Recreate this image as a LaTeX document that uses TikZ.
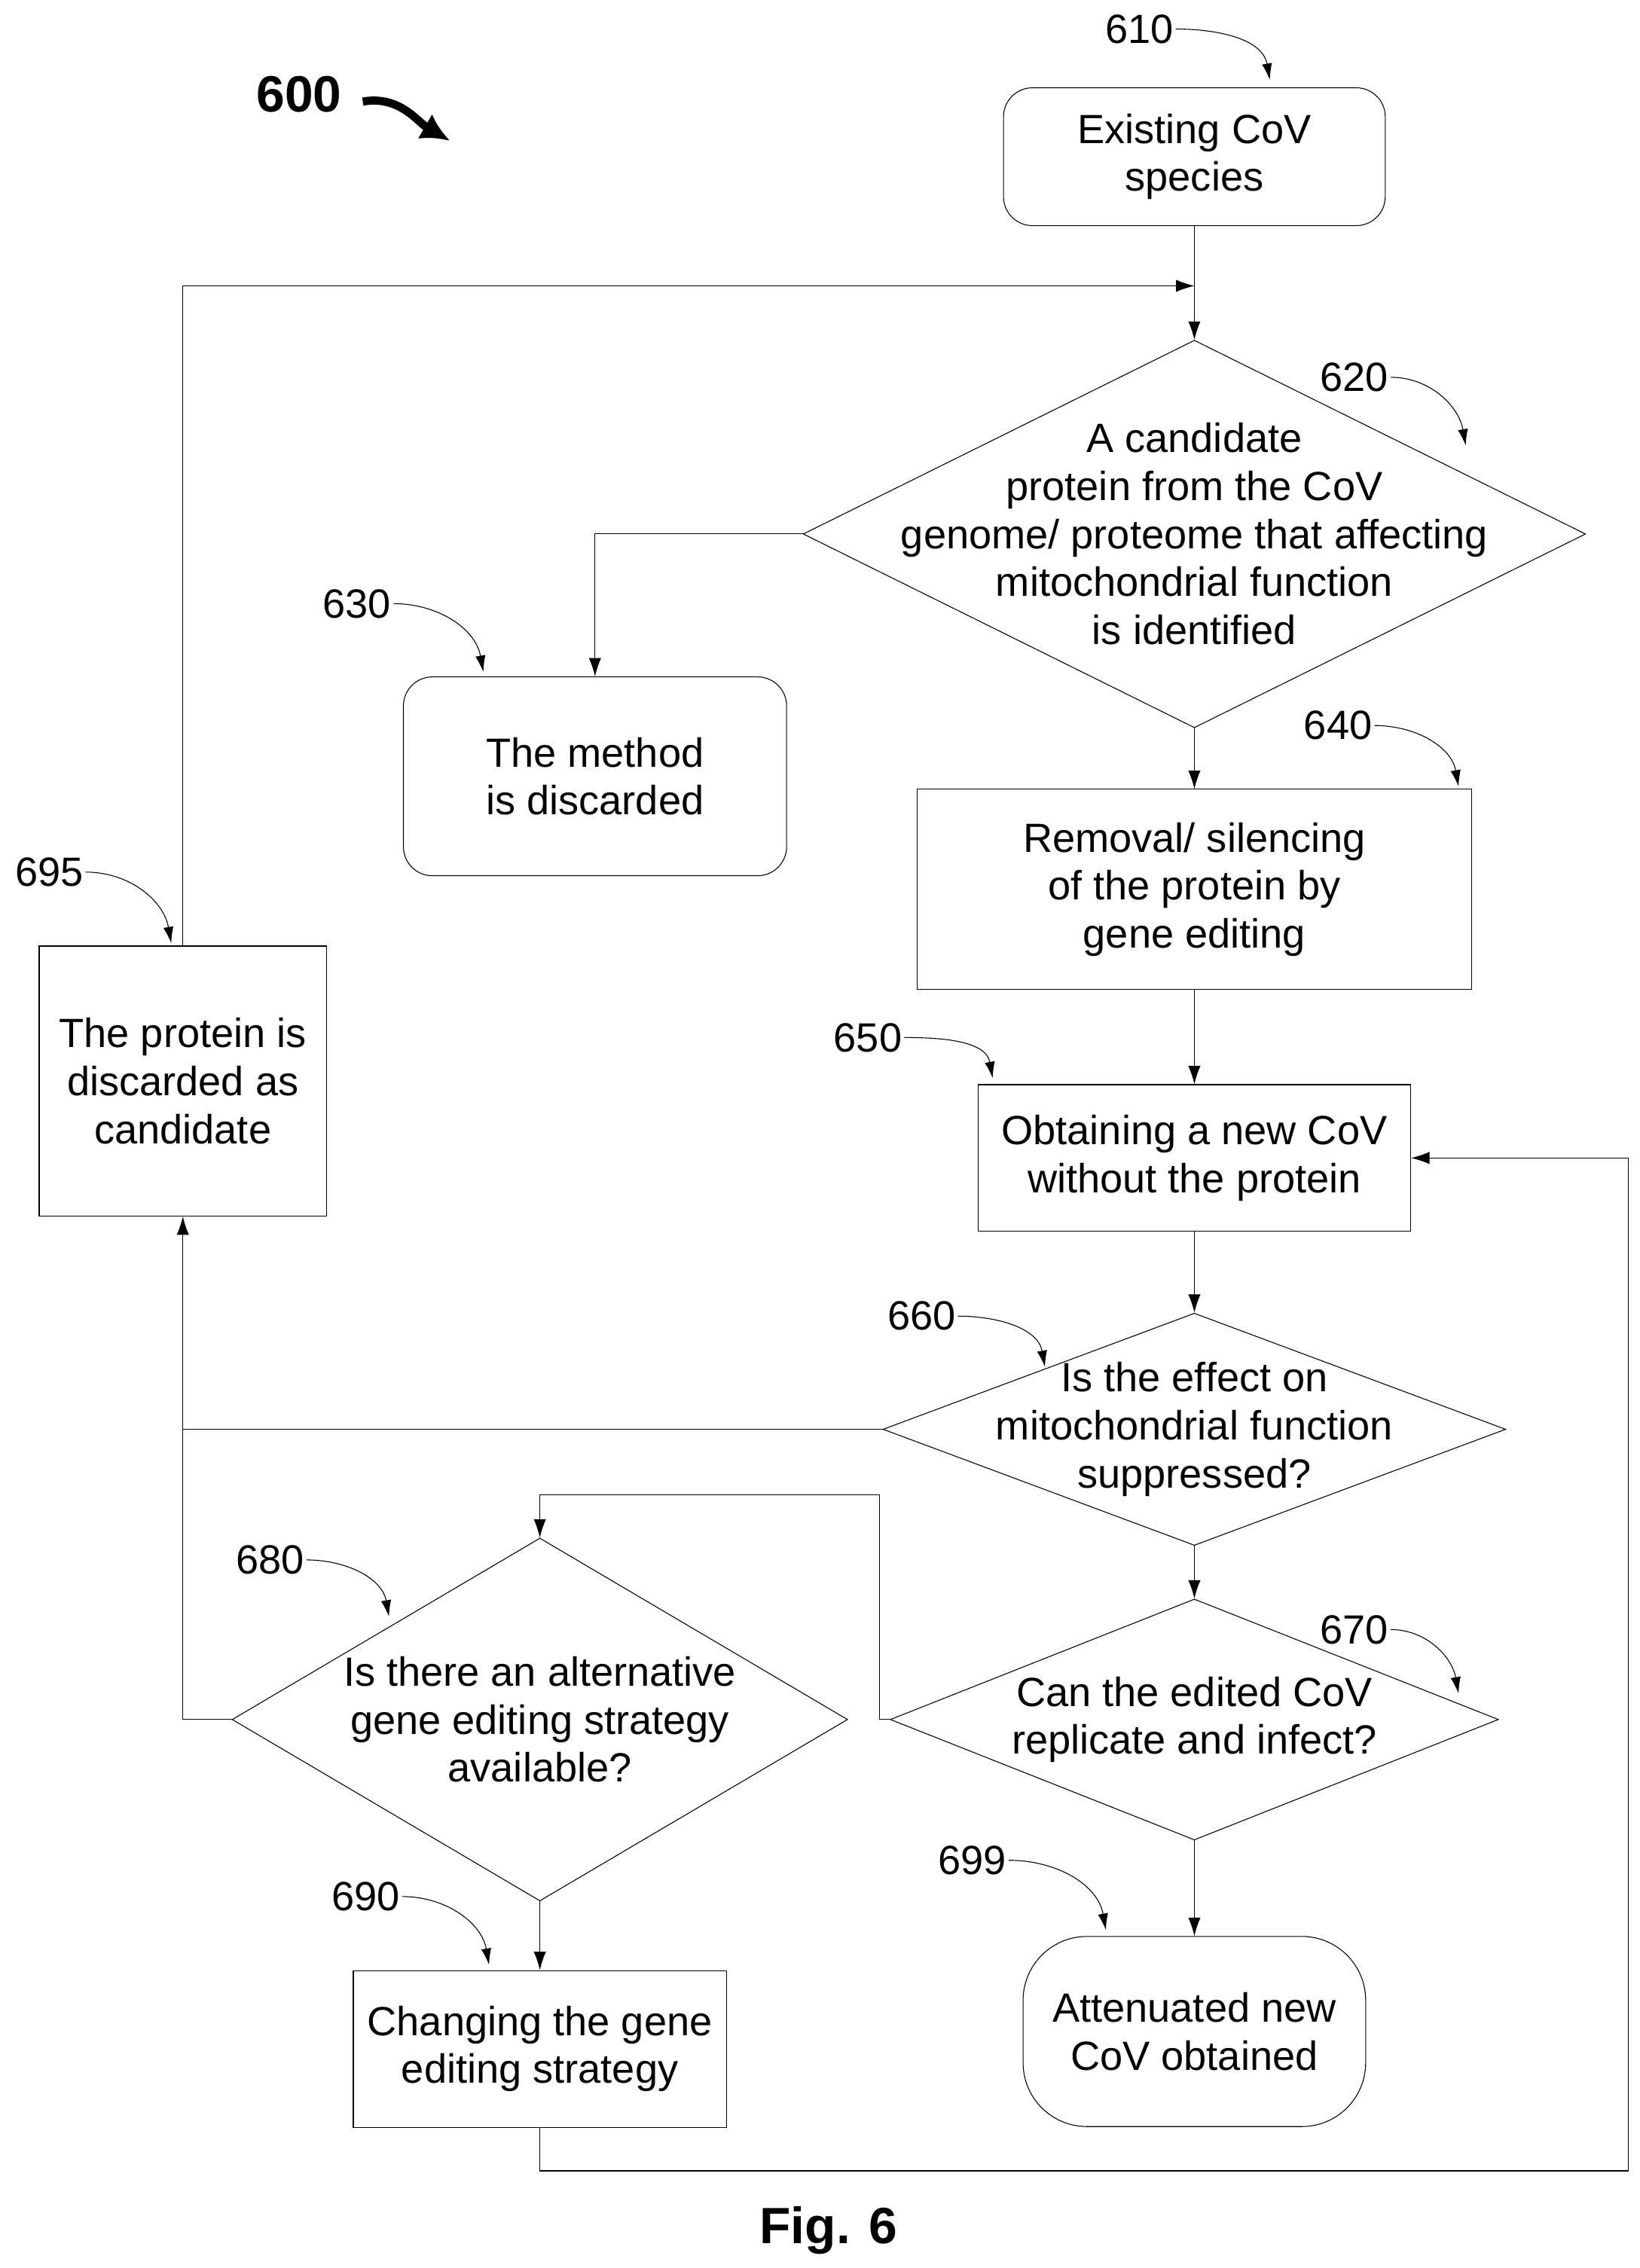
\documentclass[tikz,border=0pt]{standalone}
\usepackage{fontspec}
\setmainfont{Liberation Sans}
\usetikzlibrary{arrows.meta,shapes.geometric,positioning}

\begin{document}
\begin{tikzpicture}[
    x=0.025cm, y=-0.025cm,
    font=\fontsize{20}{23.5}\selectfont,
    box/.style={rectangle, draw, thin, align=center, inner sep=0pt},
    rbox/.style={box, rounded corners=0.5cm},
    dia/.style={diamond, draw, thin, inner sep=0pt},
    txt/.style={align=center, inner sep=0pt},
    num/.style={inner sep=1pt},
    arrow/.style={-{Latex[length=9pt,width=6pt]}, thin},
    lbl/.style={-{Latex[length=8pt,width=5pt]}, thin}
]
\useasboundingbox (0,0) rectangle (1130,1563);

% Title
\node[font=\fontsize{25}{30}\selectfont\bfseries] (fig) at (206,65) {600};
\draw[line width=4pt, -{Latex[length=14pt,width=14pt]}] (250,70) to[out=10,in=150] (310,97);

% Boxes
\node[rbox, minimum width=6.575cm, minimum height=2.375cm] (start) at (823,108) {Existing CoV\\species};
\node[dia, minimum width=13.475cm, minimum height=6.675cm] (ident) at (823,368) {};
\node[txt] at (823,368) {A candidate\\protein from the CoV\\genome/ proteome that affecting\\mitochondrial function\\is identified};
\node[rbox, minimum width=6.6cm, minimum height=3.425cm] (discard) at (410,535) {The method\\is discarded};
\node[box, minimum width=9.55cm, minimum height=3.45cm] (remove) at (823,613) {Removal/ silencing\\of the protein by\\gene editing};
\node[box, minimum width=7.45cm, minimum height=2.525cm] (newcov) at (823,798) {Obtaining a new CoV\\without the protein};
\node[dia, minimum width=10.725cm, minimum height=4cm] (effect) at (823,985) {};
\node[txt] at (823,985) {Is the effect on\\mitochondrial function\\suppressed?};
\node[box, minimum width=4.95cm, minimum height=4.65cm] (cand) at (126,745) {The protein is\\discarded as\\candidate};
\node[dia, minimum width=10.475cm, minimum height=4.15cm] (repl) at (823,1185) {};
\node[txt] at (823,1185) {Can the edited CoV\\replicate and infect?};
\node[dia, minimum width=10.6cm, minimum height=6.25cm] (alt) at (372,1185) {};
\node[txt] at (372,1185) {Is there an alternative\\gene editing strategy\\available?};
\node[box, minimum width=6.425cm, minimum height=2.7cm] (change) at (372,1412) {Changing the gene\\editing strategy};
\node[rbox, rounded corners=1.1cm, minimum width=5.9cm, minimum height=3.275cm] (atten) at (823,1400) {Attenuated new\\CoV obtained};

% Reference numbers
\node[num] (l610) at (785,20) {610};
\node[num] (l620) at (933,260) {620};
\node[num] (l630) at (246,416) {630};
\node[num] (l640) at (922,500) {640};
\node[num] (l650) at (598,715) {650};
\node[num] (l660) at (635,907) {660};
\node[num] (l670) at (933,1123) {670};
\node[num] (l680) at (186,1075) {680};
\node[num] (l690) at (252,1307) {690};
\node[num] (l695) at (34,601) {695};
\node[num] (l699) at (670,1282) {699};

\draw[lbl] (l610.east) to[out=0,in=100] (875,55);
\draw[lbl] (l620.east) to[out=0,in=100] (1010,307);
\draw[lbl] (l630.east) to[out=0,in=100] (333,463);
\draw[lbl] (l640.east) to[out=0,in=100] (1005,542);
\draw[lbl] (l650.east) to[out=0,in=100] (684,743);
\draw[lbl] (l660.east) to[out=0,in=100] (720,942);
\draw[lbl] (l670.east) to[out=0,in=100] (1005,1167);
\draw[lbl] (l680.east) to[out=0,in=100] (268,1114);
\draw[lbl] (l690.east) to[out=0,in=100] (337,1354);
\draw[lbl] (l695.east) to[out=0,in=100] (118,650);
\draw[lbl] (l699.east) to[out=0,in=100] (762,1330);

% Connectors
\coordinate (j1) at (823,197);
\draw[arrow] (start) -- (ident);
\draw[arrow] (cand.north) |- (j1);
\draw[arrow] (ident.west) -| (discard.north);
\draw[arrow] (ident) -- (remove);
\draw[arrow] (remove) -- (newcov);
\draw[arrow] (newcov) -- (effect);
\draw[arrow] (effect.west) -| (cand.south);
\draw[arrow] (effect) -- (repl);
\draw[arrow] (repl.west) -- (606,1185) |- (372,1030) -- (alt.north);
\draw (alt.west) -| (126,985);
\draw[arrow] (alt) -- (change);
\draw[arrow] (change.south) |- (1122,1496) |- (newcov.east);
\draw[arrow] (repl) -- (atten);

\node[font=\fontsize{25}{30}\selectfont\bfseries] (caption) at (571,1537) {Fig. 6};
\end{tikzpicture}
\end{document}
